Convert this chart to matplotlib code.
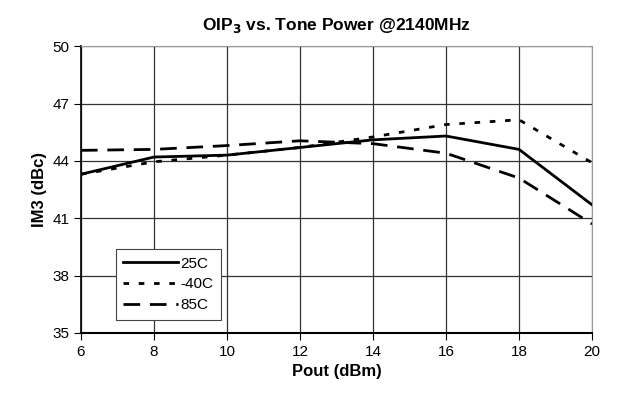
import numpy as np
import matplotlib.pyplot as plt

plt.rcParams['font.family'] = ['Liberation Sans', 'DejaVu Sans']

pout = [6, 8, 10, 12, 14, 16, 18, 20]
im3_25c = [43.3, 44.2, 44.3, 44.7, 45.1, 45.3, 44.6, 41.7]
im3_m40c = [43.3, 43.95, 44.3, 44.7, 45.25, 45.9, 46.15, 43.9]
im3_85c = [44.55, 44.6, 44.8, 45.05, 44.9, 44.4, 43.1, 40.7]
yticks = [35, 38, 41, 44, 47, 50]

fig = plt.figure(figsize=(6.18, 4.05), dpi=100)
ax = fig.add_axes([0.131, 0.178, 0.827, 0.708])

ax.plot(pout, im3_25c, '-', color='black', lw=2, label='25C')
ax.plot(pout, im3_m40c, color='black', lw=2, dashes=(2, 3.5), label='-40C')
ax.plot(pout, im3_85c, color='black', lw=2, dashes=(6, 3.5), label='85C')

ax.set_xlim(6, 20)
ax.set_ylim(35, 50)
ax.set_xticks(np.arange(6, 21, 2))
ax.set_yticks(yticks)
ax.grid(True, color='#333333', lw=0.9)
ax.tick_params(labelsize=11, length=5, direction='out', color='black')
for s in ['top', 'right']:
    ax.spines[s].set_color('#999999')
ax.spines['left'].set_linewidth(1.2)
ax.spines['bottom'].set_linewidth(1.5)

ax.set_xlabel('Pout (dBm)', fontsize=12, fontweight='bold')
ax.set_ylabel('IM3 (dBc)', fontsize=12, fontweight='bold')
ax.set_title('OIP$_\\mathbf{3}$ vs. Tone Power @2140MHz', fontsize=12.5, fontweight='bold', pad=12)

leg = ax.legend(loc='lower left', bbox_to_anchor=(0.068, 0.045), fontsize=11,
                fancybox=False, framealpha=1, edgecolor='#444444', borderpad=0.5,
                handlelength=3.6, handletextpad=0.15, labelspacing=0.45, borderaxespad=0)
leg.get_frame().set_linewidth(0.8)

fig.savefig('out.png', dpi=100)
